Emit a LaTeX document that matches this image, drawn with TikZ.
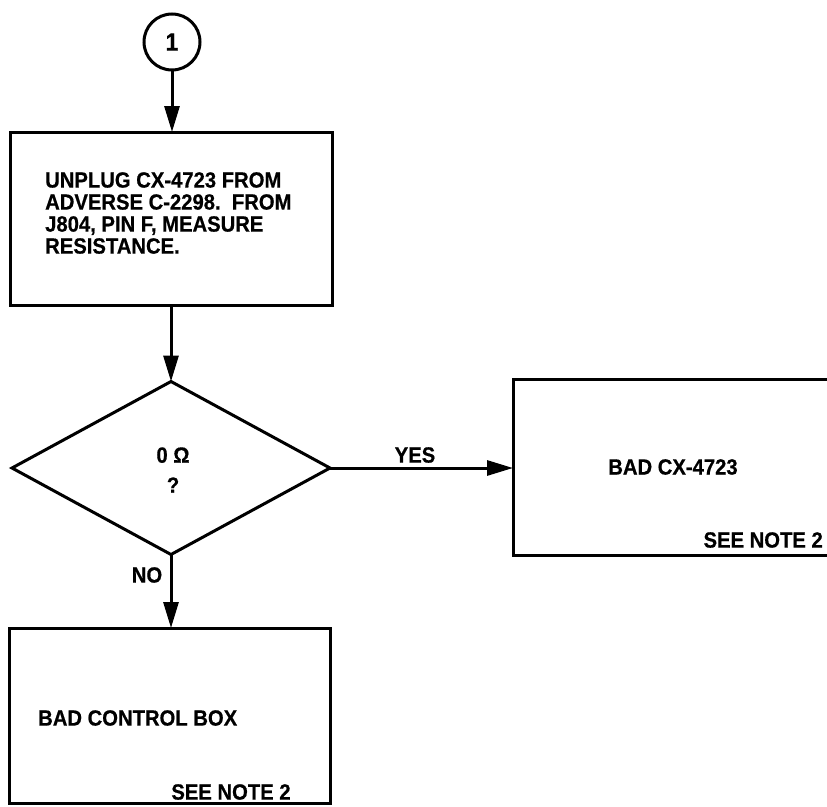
\documentclass[tikz,border=0pt]{standalone}
\usepackage{fontspec}
\setmainfont{Liberation Sans}[FakeStretch=0.92,BoldFeatures={FakeBold=0.6}]
\usetikzlibrary{shapes.geometric,arrows.meta}
\begin{document}
\begin{tikzpicture}[x=1pt,y=-1pt,
  every node/.style={font=\bfseries\fontsize{22}{22}\selectfont},
  boxnode/.style={draw,line width=3pt,rectangle,inner sep=0pt,outer sep=0pt},
  lbl/.style={inner sep=0pt},
  flow/.style={line width=3pt,-{Triangle[length=26pt,width=15pt]}}]
\useasboundingbox (0,0) rectangle (827,806);
\node[draw,circle,line width=3pt,minimum size=56pt,inner sep=0pt,outer sep=0pt,font=\bfseries\fontsize{25}{25}\selectfont] (c1) at (172,42) {1};
\node[boxnode,minimum width=322pt,minimum height=173pt] (b1) at (171,218.5) {};
\node[lbl,anchor=west,align=left] (t1) at (45,213) {UNPLUG CX-4723 FROM\\ADVERSE C-2298.\ \ FROM\\J804, PIN F, MEASURE\\RESISTANCE.};
\node[draw,diamond,line width=3pt,minimum width=318pt,minimum height=173pt,inner sep=0pt,outer sep=0pt] (d) at (171,468) {};
\node[lbl,align=center,font=\bfseries\fontsize{22}{30}\selectfont] (q) at (173,470) {0 Ω\\?};
\node[boxnode,minimum width=322pt,minimum height=176pt] (r) at (674,467) {};
\node[lbl] (rt) at (673,467) {BAD CX-4723};
\node[lbl,anchor=east] (rn) at (823,540) {SEE NOTE 2};
\node[boxnode,minimum width=321pt,minimum height=175pt] (bb) at (169.5,715.5) {};
\node[lbl,anchor=west] (bt) at (38,718) {BAD CONTROL BOX};
\node[lbl] (bn) at (231,792) {SEE NOTE 2};
\node[lbl] (yes) at (415,455) {YES};
\node[lbl] (no) at (147,575) {NO};
\draw[flow] (c1.south) -- (c1.south |- b1.north);
\draw[flow] (b1.south) -- (d.north);
\draw[flow] (d.east) -- (r.west |- d.east);
\draw[flow] (d.south) -- (d.south |- bb.north);
\end{tikzpicture}
\end{document}
